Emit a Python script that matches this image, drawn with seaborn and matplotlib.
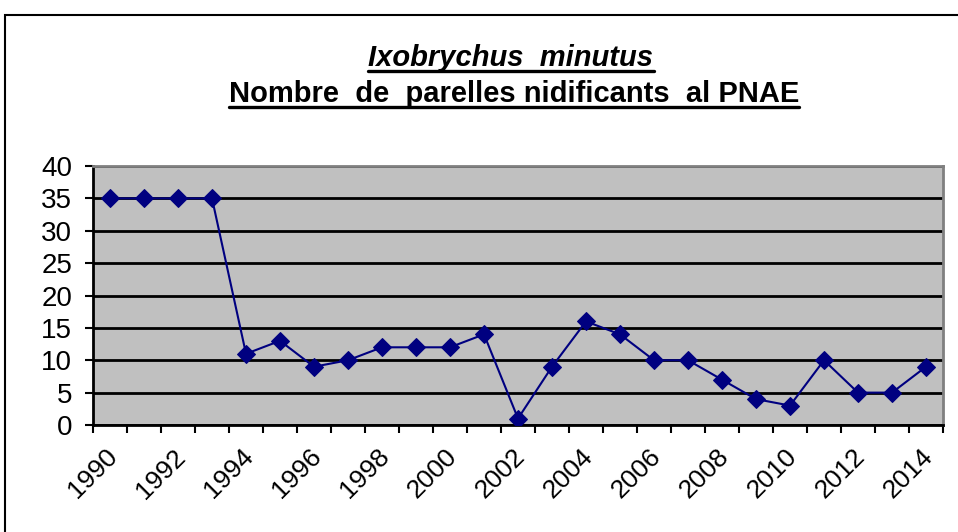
import matplotlib
matplotlib.use("Agg")
import matplotlib.pyplot as plt
import matplotlib.transforms as mtransforms
import seaborn as sns
import numpy as np

# Data
years = list(range(1990, 2015))
parelles = [35, 35, 35, 35, 11, 13, 9, 10, 12, 12, 12, 14, 1, 9, 16, 14, 10, 10, 7, 4, 3, 10, 5, 5, 9]
y_ticks = [0, 5, 10, 15, 20, 25, 30, 35, 40]

sns.set_style("white")
plt.rcParams['font.family'] = ['Liberation Sans', 'DejaVu Sans']
plt.rcParams['text.color'] = 'black'
plt.rcParams['xtick.color'] = 'black'
plt.rcParams['ytick.color'] = 'black'

fig = plt.figure(figsize=(9.58, 5.32), dpi=100)
ax = fig.add_axes([93 / 958, 1 - 425 / 532, 850 / 958, 259 / 532])

pos = np.arange(len(years))
sns.lineplot(x=pos, y=parelles, ax=ax, color="#000080", marker="D", markersize=9,
             markeredgecolor="#000080", linewidth=1.5, zorder=5)

ax.set_facecolor("#C0C0C0")
ax.set_xlim(-0.5, len(years) - 0.5)
ax.set_ylim(0, 40)
ax.set_yticks(y_ticks)
ax.yaxis.grid(True, color="black", linewidth=2)
ax.set_axisbelow(True)

# labels at category centres, tick marks between categories
ax.set_xticks(pos[::2])
ax.set_xticklabels([str(y) for y in years[::2]], rotation=45, ha="right", va="top",
                   rotation_mode="anchor", fontsize=19)
ax.set_xticks(np.arange(-0.5, len(years), 1), minor=True)
ax.tick_params(axis="x", which="major", length=0, pad=14)
ax.tick_params(axis="x", which="minor", length=6, width=1.5, color="black", bottom=True)
ax.tick_params(axis="y", length=6, width=1.5, color="black", left=True, labelsize=20, pad=9)

shift = mtransforms.ScaledTranslation(-5 / 100, 0, fig.dpi_scale_trans)
for lab in ax.get_xticklabels():
    lab.set_transform(lab.get_transform() + shift)

for s in ["left", "bottom"]:
    ax.spines[s].set_color("black")
    ax.spines[s].set_linewidth(2)
for s in ["top", "right"]:
    ax.spines[s].set_color("#808080")
    ax.spines[s].set_linewidth(2)

# outer chart border
fig.patches.append(plt.Rectangle((5 / 958, -0.1), 1.1, 1 - 15 / 532 + 0.1,
                                 transform=fig.transFigure, fill=False,
                                 edgecolor="black", linewidth=1.5))

# title with underlines
t1 = fig.text(511 / 958, 1 - 66 / 532, "Ixobrychus  minutus", ha="center", va="baseline",
              fontsize=21, fontweight="bold", fontstyle="italic")
t2 = fig.text(514 / 958, 1 - 102 / 532, "Nombre  de  parelles nidificants  al PNAE", ha="center",
              va="baseline", fontsize=21, fontweight="bold")

fig.canvas.draw()
r = fig.canvas.get_renderer()
for t in (t1, t2):
    bb = t.get_window_extent(renderer=r).transformed(fig.transFigure.inverted())
    yb = t.get_position()[1] - 4.5 / 532
    fig.add_artist(plt.Line2D([bb.x0, bb.x1], [yb, yb], transform=fig.transFigure,
                              color="black", linewidth=2.4))

fig.savefig("out.png", dpi=100)
